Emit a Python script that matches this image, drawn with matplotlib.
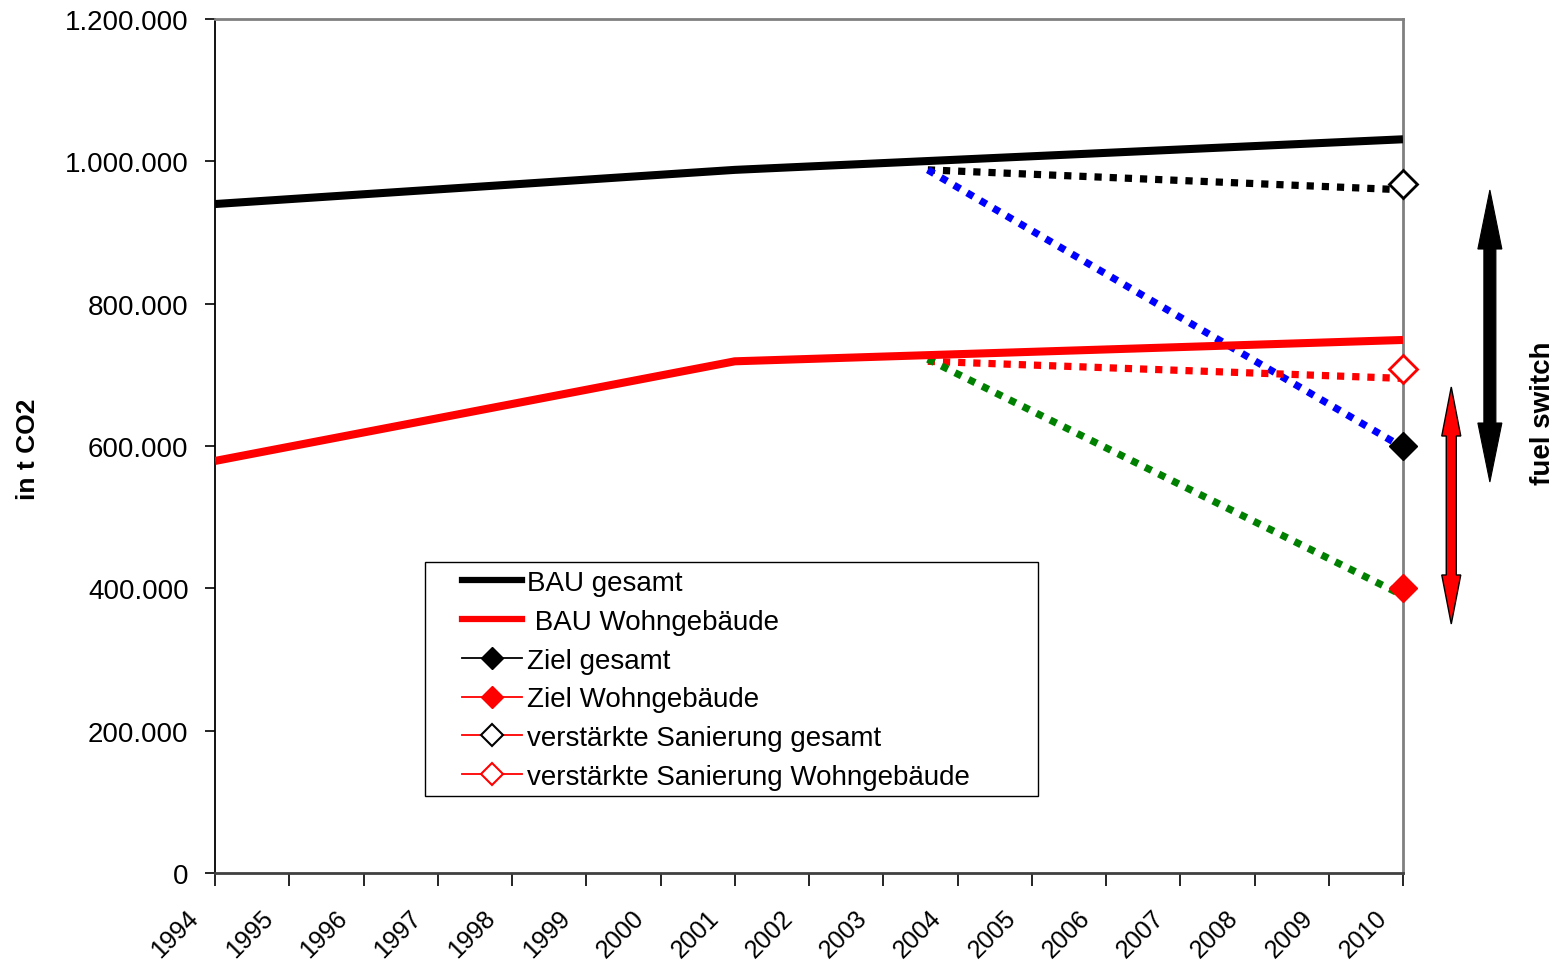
import matplotlib
matplotlib.use("Agg")
import matplotlib.pyplot as plt
from matplotlib.patches import Polygon, Rectangle
from matplotlib.transforms import IdentityTransform, ScaledTranslation
from matplotlib.lines import Line2D
from matplotlib.ticker import FuncFormatter, MultipleLocator, NullFormatter

plt.rcParams['font.family'] = ['Liberation Sans', 'DejaVu Sans']

# ---------------- data ----------------
years = list(range(1994, 2011))
year_labels = [str(y) for y in years]
bau_years = [1994, 2001, 2010]
bau_gesamt = [940000, 988000, 1031000]
bau_wohn = [579000, 719000, 749000]

scen_years = [2003.6, 2010]
san_gesamt_line = [988000, 960000]
ziel_gesamt_line = [988000, 598000]
san_wohn_line = [719000, 695000]
ziel_wohn_line = [722000, 390000]

target_year = [2010]
ziel_gesamt = [600000]
ziel_wohn = [400000]
san_gesamt = [968000]
san_wohn = [708000]

arrow_black = (2011.17, 959700, 549400)
arrow_red = (2010.65, 682900, 349900)

labels = ["BAU gesamt", " BAU Wohngebäude", "Ziel gesamt", "Ziel Wohngebäude",
          "verstärkte Sanierung gesamt", "verstärkte Sanierung Wohngebäude"]

FS = 20
FS_X = 18

# ---------------- figure ----------------
fig = plt.figure(figsize=(15.59, 9.62), dpi=100)
ax = fig.add_axes([215/1559, (962-874)/962, (1403-215)/1559, (874-20)/962])

dot = (0, (1, 1.1))
LW_DOT = 5.2
ax.plot(scen_years, san_gesamt_line, color='black', lw=LW_DOT, ls=dot, dash_capstyle='butt', zorder=3)
ax.plot(scen_years, ziel_gesamt_line, color='#0000ff', lw=LW_DOT, ls=dot, dash_capstyle='butt', zorder=3)
ax.plot(scen_years, san_wohn_line, color='#ff0000', lw=LW_DOT, ls=dot, dash_capstyle='butt', zorder=3)
ax.plot(scen_years, ziel_wohn_line, color='#008000', lw=LW_DOT, ls=dot, dash_capstyle='butt', zorder=3)

ax.plot(bau_years, bau_gesamt, color='black', lw=5.8, solid_capstyle='butt', zorder=4)
ax.plot(bau_years, bau_wohn, color='#ff0000', lw=5.8, solid_capstyle='butt', zorder=4)

ms = 14
ax.plot(target_year, ziel_gesamt, ls='none', marker='D', ms=ms, mfc='black', mec='black', zorder=5, clip_on=False)
ax.plot(target_year, ziel_wohn, ls='none', marker='D', ms=ms, mfc='#ff0000', mec='#ff0000', zorder=5, clip_on=False)
ax.plot(target_year, san_gesamt, ls='none', marker='D', ms=ms, mfc='white', mec='black', mew=2, zorder=5, clip_on=False)
ax.plot(target_year, san_wohn, ls='none', marker='D', ms=ms, mfc='white', mec='#ff0000', mew=2, zorder=5, clip_on=False)

ax.set_xlim(1994, 2010)
ax.set_ylim(0, 1200000)
ax.set_xticks(years)
ax.xaxis.set_major_formatter(NullFormatter())
# x tick labels as rotated texts placed under each tick
lab_tr = ax.get_xaxis_transform() + ScaledTranslation(-20/100, -41/100, fig.dpi_scale_trans)
for y, s in zip(years, year_labels):
    ax.text(y, 0, s, transform=lab_tr, rotation=45, rotation_mode='anchor',
            ha='right', va='center', fontsize=FS_X, clip_on=False)

ax.yaxis.set_major_locator(MultipleLocator(200000))
ax.yaxis.set_major_formatter(FuncFormatter(lambda v, p: f"{int(v):,}".replace(",", ".")))
ax.tick_params(axis='y', labelsize=FS, direction='out', length=7, width=1.2, pad=12)
ax.tick_params(axis='x', direction='out', length=9, width=1.2)

ax.spines['left'].set_color('black')
ax.spines['left'].set_linewidth(1.3)
ax.spines['bottom'].set_color('#404040')
ax.spines['bottom'].set_linewidth(2)
for s in ['top', 'right']:
    ax.spines[s].set_color('#808080')
    ax.spines[s].set_linewidth(2)

fig.text(28/1559, 1 - 449/962, "in t CO2", rotation=90, ha='center', va='center',
         fontsize=19, fontweight='bold')
fig.text(1543/1559, 1 - 413/962, "fuel switch", rotation=90, ha='center', va='center',
         fontsize=20, fontweight='bold')

# legend (frame drawn separately)
handles = [
    Line2D([], [], color='black', lw=4.5),
    Line2D([], [], color='#ff0000', lw=4.5),
    Line2D([], [], color='black', lw=1.3, marker='D', ms=11, mfc='black', mec='black'),
    Line2D([], [], color='#ff0000', lw=1.3, marker='D', ms=11, mfc='#ff0000', mec='#ff0000'),
    Line2D([], [], color='#ff0000', lw=1.3, marker='D', ms=11, mfc='white', mec='black', mew=1.5),
    Line2D([], [], color='#ff0000', lw=1.3, marker='D', ms=11, mfc='white', mec='#ff0000', mew=1.5),
]
leg = ax.legend(handles, labels, loc='upper left',
                bbox_to_anchor=((462-215)/1188, (874-571)/854),
                borderaxespad=0, borderpad=0, fontsize=FS, frameon=False,
                handlelength=2.15, handletextpad=0.2, labelspacing=0.46)
frame = Rectangle(((425-215)/1188, (874-797)/854), (1038-425)/1188, (797-563)/854,
                  transform=ax.transAxes, facecolor='white', edgecolor='black',
                  lw=1.0, zorder=6)
ax.add_patch(frame)
leg.set_zorder(7)

# double arrows (fixed pixel widths)
def double_arrow(x, y1, y2, shaft, headw, headl, fc, ec, lw):
    (px, py1), (_, py2) = ax.transData.transform([(x, y1), (x, y2)])
    top, bot = max(py1, py2), min(py1, py2)
    s, h = shaft/2, headw/2
    pts = [(px, top), (px+h, top-headl), (px+s, top-headl), (px+s, bot+headl),
           (px+h, bot+headl), (px, bot), (px-h, bot+headl), (px-s, bot+headl),
           (px-s, top-headl), (px-h, top-headl)]
    poly = Polygon(pts, closed=True, transform=IdentityTransform(), facecolor=fc,
                   edgecolor=ec, lw=lw, clip_on=False, zorder=6)
    fig.add_artist(poly)

double_arrow(*arrow_black, shaft=12, headw=24, headl=59, fc='black', ec='black', lw=0.8)
double_arrow(*arrow_red, shaft=10, headw=19, headl=49, fc='#ff0000', ec='black', lw=1.0)

fig.savefig("out.png", dpi=100)
